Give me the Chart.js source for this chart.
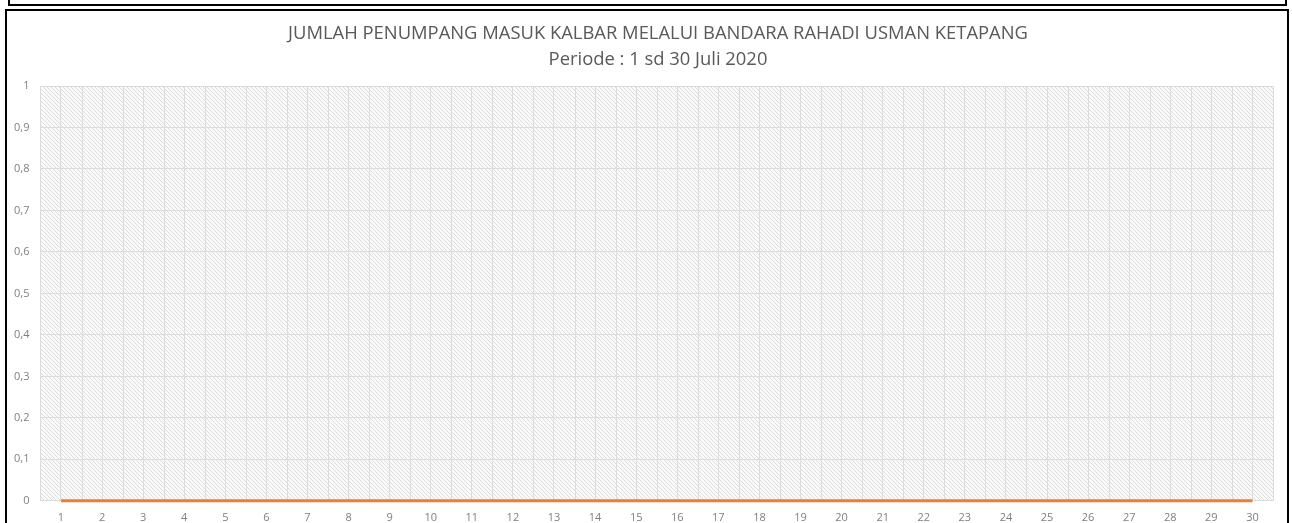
<!DOCTYPE html>
<html>
<head>
<meta charset="utf-8">
<script src="https://cdn.jsdelivr.net/npm/chart.js@4.4.1/dist/chart.umd.min.js"></script>
<style>
  html, body { margin: 0; padding: 0; background: #fff; overflow: hidden; }
  #wrap { position: absolute; left: 0; top: 0; width: 1292px; height: 523px; }
  .frame-top { position: absolute; left: 8px; top: -10px; width: 1275px; height: 12px; border: 2px solid #000; }
  .frame-main { position: absolute; left: 5px; top: 9px; width: 1280px; height: 540px; border: 2px solid #000; }
</style>
</head>
<body>
<div id="wrap">
  <div class="frame-top"></div>
  <div class="frame-main"></div>
  <canvas id="chart" width="1292" height="523"></canvas>
</div>
<script>
const titleLines = ['JUMLAH PENUMPANG MASUK KALBAR MELALUI BANDARA RAHADI USMAN KETAPANG', 'Periode : 1 sd 30 Juli 2020']
const days = ['1', '2', '3', '4', '5', '6', '7', '8', '9', '10', '11', '12', '13', '14', '15',
  '16', '17', '18', '19', '20', '21', '22', '23', '24', '25', '26', '27', '28', '29', '30']
const passengers = [0, 0, 0, 0, 0, 0, 0, 0, 0, 0, 0, 0, 0, 0, 0,
  0, 0, 0, 0, 0, 0, 0, 0, 0, 0, 0, 0, 0, 0, 0]

// diagonal hatch behind the plot, like the excel pattern fill
function makeHatch(ctx) {
  const c = document.createElement('canvas')
  c.width = 4
  c.height = 4
  const g = c.getContext('2d')
  g.fillStyle = '#fafafa'
  g.fillRect(0, 0, 4, 4)
  g.strokeStyle = '#dedede'
  g.lineWidth = 1
  g.beginPath()
  g.moveTo(-1, -1)
  g.lineTo(5, 5)
  g.moveTo(-1, 3)
  g.lineTo(1, 5)
  g.moveTo(3, -1)
  g.lineTo(5, 1)
  g.stroke()
  return ctx.createPattern(c, 'repeat')
}

const plotBackground = {
  id: 'plotBackground',
  beforeDraw(chart) {
    const { ctx, chartArea: a, scales } = chart
    ctx.save()
    ctx.fillStyle = makeHatch(ctx)
    ctx.fillRect(a.left, a.top, a.right - a.left, a.bottom - a.top)
    // extra vertical lines on category boundaries
    const x = scales.x
    const step = x.getPixelForTick(1) - x.getPixelForTick(0)
    ctx.strokeStyle = '#dcdcdc'
    ctx.lineWidth = 1
    ctx.beginPath()
    for (let i = 0; i <= days.length; i++) {
      const px = Math.round(x.getPixelForTick(0) - step / 2 + i * step) + 0.5
      ctx.moveTo(px, a.top)
      ctx.lineTo(px, a.bottom)
    }
    ctx.stroke()
    ctx.restore()
  }
}

// title drawn by hand, the excel title is not centred on the canvas
const chartTitle = {
  id: 'chartTitle',
  afterDraw(chart) {
    const ctx = chart.ctx
    ctx.save()
    ctx.font = '18.4px "Open Sans"'
    ctx.fillStyle = '#595959'
    ctx.textAlign = 'center'
    ctx.textBaseline = 'middle'
    ctx.fillText(titleLines[0], 658, 34)
    ctx.fillText(titleLines[1], 658, 60)
    ctx.restore()
  }
}

const tickFont = { family: 'Open Sans', size: 11 }

new Chart(document.getElementById('chart').getContext('2d'), {
  type: 'line',
  data: {
    labels: days,
    datasets: [
      {
        label: 'Jumlah Penumpang',
        data: passengers,
        borderColor: '#ed7d31',
        backgroundColor: '#ed7d31',
        borderWidth: 3,
        pointRadius: 0,
        tension: 0,
        clip: false
      }
    ]
  },
  options: {
    responsive: false,
    animation: false,
    layout: {
      padding: { left: 3, right: 19, top: 86, bottom: -11 }
    },
    plugins: {
      legend: { display: false },
      tooltip: { enabled: false },
      title: { display: false }
    },
    scales: {
      x: {
        offset: true,
        grid: { color: '#dcdcdc', drawTicks: false, offset: false },
        border: { color: '#d9d9d9' },
        ticks: { color: '#7f7f7f', font: tickFont, padding: 10, maxRotation: 0, autoSkip: false }
      },
      y: {
        min: 0,
        max: 1,
        grid: { color: '#dcdcdc', drawTicks: false },
        border: { display: false },
        ticks: {
          stepSize: 0.1,
          color: '#7f7f7f',
          font: tickFont,
          padding: 11,
          callback: (value) => (Math.round(value * 10) / 10).toString().replace('.', ',')
        }
      }
    }
  },
  plugins: [plotBackground, chartTitle]
})
</script>
</body>
</html>
